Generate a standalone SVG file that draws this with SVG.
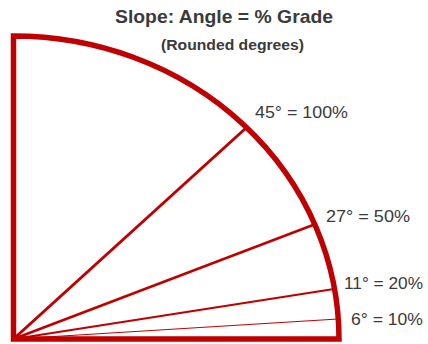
<svg xmlns="http://www.w3.org/2000/svg" width="428" height="344" viewBox="0 0 428 344">
<style>
.t{font-family:"Liberation Sans",Arial,sans-serif;fill:#3a3a3a}
.b{font-weight:bold}
.lbl{font-size:16.5px}
.ray{stroke:#c00000;fill:none;stroke-linecap:butt}
</style>
<rect width="428" height="344" fill="#ffffff"/>
<g id="title">
<text class="t b" x="224" y="22.5" font-size="19" text-anchor="middle" textLength="218" lengthAdjust="spacingAndGlyphs">Slope: Angle = % Grade</text>
<text class="t b" x="232.5" y="49.5" font-size="14.5" text-anchor="middle" textLength="143" lengthAdjust="spacingAndGlyphs">(Rounded degrees)</text>
</g>
<g id="connectors">
<line class="ray" x1="13.5" y1="339" x2="246" y2="128" stroke-width="3"/>
<line class="ray" x1="13.5" y1="339" x2="313" y2="225" stroke-width="2.5"/>
<line class="ray" x1="13.5" y1="339" x2="334" y2="289" stroke-width="2"/>
<line class="ray" x1="13.5" y1="339" x2="338" y2="319" stroke-width="1.2" stroke="#d65050"/>
</g>
<g id="quadrant">
<path d="M13.5,36 A325.5,303 0 0 1 339,339 L13.5,339 Z" fill="none" stroke="#c00000" stroke-width="5.5" stroke-linejoin="miter"/>
</g>
<g id="label45"><text class="t lbl" x="255" y="117.5" textLength="93" lengthAdjust="spacingAndGlyphs">45° = 100%</text></g>
<g id="label27"><text class="t lbl" x="326" y="221.5" textLength="84" lengthAdjust="spacingAndGlyphs">27° = 50%</text></g>
<g id="label11"><text class="t lbl" x="344" y="289" textLength="79" lengthAdjust="spacingAndGlyphs">11° = 20%</text></g>
<g id="label6"><text class="t lbl" x="351" y="324.5" textLength="72" lengthAdjust="spacingAndGlyphs">6° = 10%</text></g>
</svg>
